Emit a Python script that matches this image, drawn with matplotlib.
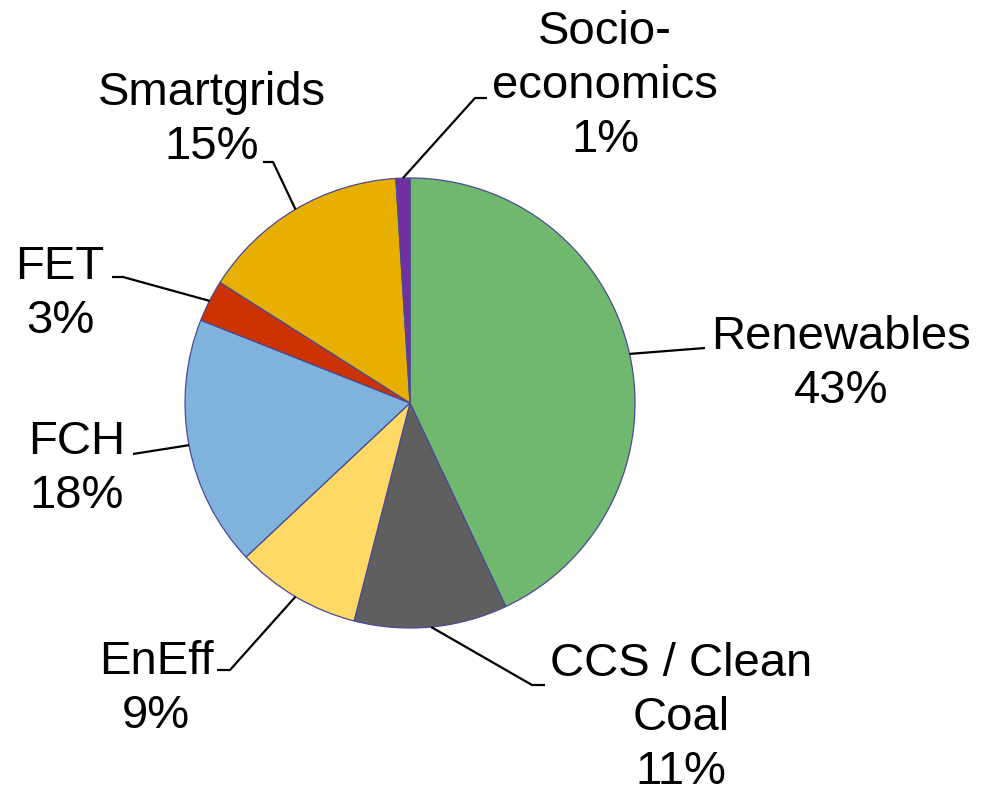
import numpy as np
import matplotlib.pyplot as plt

W, H = 990, 795

labels = ["Renewables", "CCS / Clean\nCoal", "EnEff", "FCH", "FET", "Smartgrids", "Socio-\neconomics"]
shares = [43, 11, 9, 18, 3, 15, 1]
colors = ["#70b86e", "#5f5f5f", "#ffd966", "#7fb3dc", "#cc3300", "#e7b000", "#7030a0"]

# layout in pixels measured from the top-left corner
CENTER = (410, 403)
RADIUS = 225
text_pos = [(841, 364), (681, 718), (156, 689), (77, 469), (60, 294), (212, 120), (605, 86)]
leaders = [
    [(705, 348)],
    [(532, 685), (545, 685)],
    [(230, 670), (217, 670)],
    [(133, 454)],
    [(123, 277), (112, 277)],
    [(273, 162), (263, 162)],
    [(475, 98), (487, 98)],
]


def flip(x, y):
    return x, H - y


def main():
    plt.rcParams["font.family"] = ["Liberation Sans", "DejaVu Sans"]
    fig = plt.figure(figsize=(W / 100, H / 100), dpi=100)
    ax = fig.add_axes([0, 0, 1, 1])

    cx, cy = flip(*CENTER)
    wedges, _ = ax.pie(
        shares,
        colors=colors,
        startangle=90,
        counterclock=False,
        center=(cx, cy),
        radius=RADIUS,
        wedgeprops=dict(edgecolor="#4a4a96", linewidth=0.9),
        frame=True,
    )
    ax.set_xlim(0, W)
    ax.set_ylim(0, H)
    ax.set_aspect("equal")
    ax.axis("off")

    for w, lab, share, (tx, ty), pts in zip(wedges, labels, shares, text_pos, leaders):
        mid = np.deg2rad((w.theta1 + w.theta2) / 2)
        x0 = cx + RADIUS * np.cos(mid)
        y0 = cy + RADIUS * np.sin(mid)
        xs = [x0] + [p[0] for p in pts]
        ys = [y0] + [H - p[1] for p in pts]
        ax.plot(xs, ys, color="black", lw=1.6, solid_capstyle="butt", zorder=5)
        ax.text(tx, H - ty, f"{lab}\n{share}%", ha="center", va="center",
                fontsize=34, linespacing=1.3, color="black")

    fig.savefig("out.png", dpi=100)
    plt.close(fig)


if __name__ == "__main__":
    main()
